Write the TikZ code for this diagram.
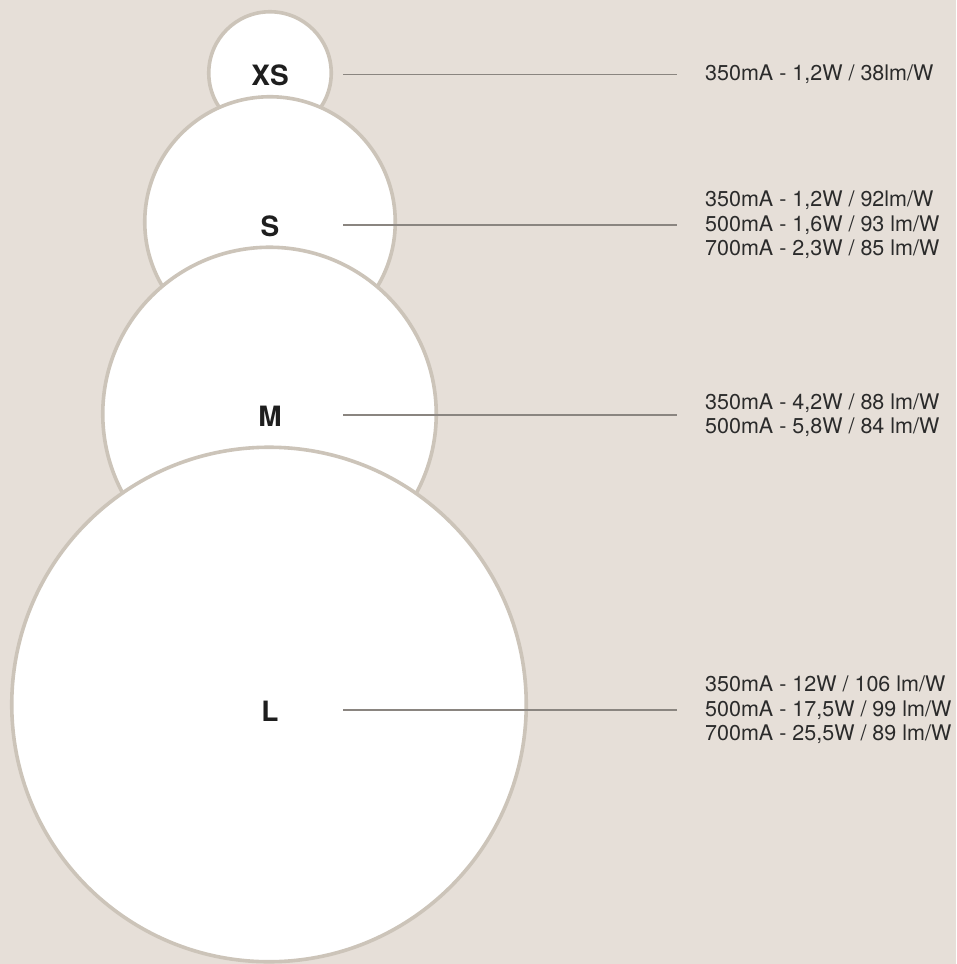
\documentclass[tikz,border=0pt]{standalone}
\usepackage{fontspec}
\setmainfont{TeX Gyre Heros}
\usetikzlibrary{positioning}

\definecolor{sandbg}{HTML}{E6DFD8}
\definecolor{sandrim}{HTML}{CCC4B9}
\definecolor{leadgray}{HTML}{8A8580}
\definecolor{spectext}{HTML}{2B2B2B}
\definecolor{sizetext}{HTML}{1E1E1E}

\begin{document}
\begin{tikzpicture}[
  x=1pt, y=-1pt,
  every node/.style = {inner sep=0pt},
  sizecircle/.style = {circle, draw=sandrim, fill=white,
                       line width=3.6pt, minimum size=#1},
  sizelabel/.style  = {font=\fontsize{28}{30}\selectfont\bfseries,
                       text=sizetext},
  specs/.style      = {anchor=west, align=left, text=spectext,
                       font=\fontsize{21.5}{24.5}\selectfont},
  leader/.style     = {leadgray, line width=1.5pt},
]

%% -- Canvas ---------------------------------------------------------------
\fill[sandbg] (0,0) rectangle (956,964);
\useasboundingbox (0,0) rectangle (956,964);

%% -- Circles (smallest first, larger ones overlap) ------------------------
\node[sizecircle=122.5pt] (xs) at (270,73)  {};
\node[sizecircle=250.5pt] (s)  at (270,222) {};
\node[sizecircle=333.5pt] (m)  at (269.5,414) {};
\node[sizecircle=514.5pt] (l)  at (269,704.5) {};

%% -- Size labels ----------------------------------------------------------
\node[sizelabel] (xs-lab) at (270,75) {XS};
\node[sizelabel] (s-lab)  at (270,226)  {S};
\node[sizelabel] (m-lab)  at (270,416)  {M};
\node[sizelabel] (l-lab)  at (270,711)  {L};

%% -- Specifications -------------------------------------------------------
\node[specs] (xs-spec) at (705,74.5) {350mA - 1,2W / 38lm/W};
\node[specs] (s-spec)  at (705,225)  {350mA - 1,2W / 92lm/W\\
                                      500mA - 1,6W / 93 lm/W\\
                                      700mA - 2,3W / 85 lm/W};
\node[specs] (m-spec)  at (705,415)  {350mA - 4,2W / 88 lm/W\\
                                      500mA - 5,8W / 84 lm/W};
\node[specs] (l-spec)  at (705,710)  {350mA - 12W / 106 lm/W\\
                                      500mA - 17,5W / 99 lm/W\\
                                      700mA - 25,5W / 89 lm/W};

%% -- Leader lines ---------------------------------------------------------
\coordinate (xs-from) at (343,74.5);
\coordinate (s-from)  at (343,225);
\coordinate (m-from)  at (343,415);
\coordinate (l-from)  at (343,710);

\draw[leader] (xs-from) -- ([xshift=-28pt]xs-spec.west);
\draw[leader] (s-from)  -- ([xshift=-28pt]s-spec.west);
\draw[leader] (m-from)  -- ([xshift=-28pt]m-spec.west);
\draw[leader] (l-from)  -- ([xshift=-28pt]l-spec.west);

\end{tikzpicture}
\end{document}
